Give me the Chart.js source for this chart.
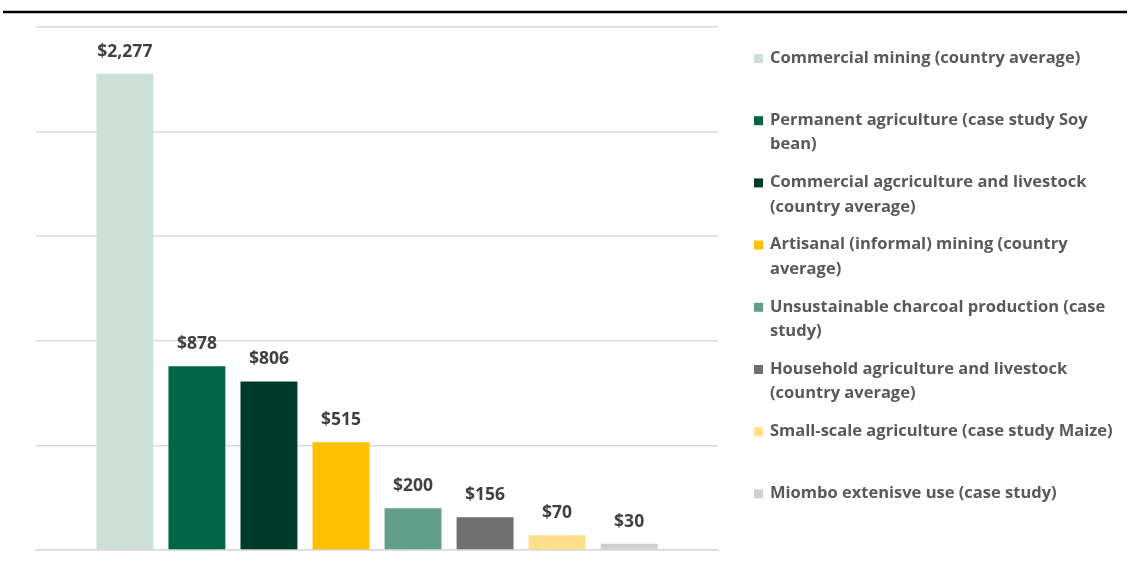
<!DOCTYPE html>
<html>
<head>
<meta charset="utf-8">
<title>Value per hectare by land use</title>
<script src="https://cdn.jsdelivr.net/npm/chart.js@4"></script>
<style>
  html, body { margin: 0; padding: 0; background: #ffffff; }
  #wrap { width: 1130px; height: 561px; position: relative; }
</style>
</head>
<body>
<div id="wrap"><canvas id="landUseChart" width="1130" height="561"></canvas></div>
<script>
// Land use categories (one series each, as in the original grouped chart)
const landUses = [
    'Commercial mining (country average)',
    'Permanent agriculture (case study Soy bean)',
    'Commercial agcriculture and livestock (country average)',
    'Artisanal (informal) mining (country average)',
    'Unsustainable charcoal production (case study)',
    'Household agriculture and livestock (country average)',
    'Small-scale agriculture (case study Maize)',
    'Miombo extenisve use (case study)'
];
const values = [2277, 878, 806, 515, 200, 156, 70, 30];
const barColors = ['#cce0d8', '#006646', '#003a2b', '#ffc000', '#629f8a', '#6f6f6f', '#ffe08a', '#d0d0d0'];

const labelFont = '"Open Sans", "Lato", sans-serif';

// Draws the "$x,xxx" labels above each bar
const valueLabels = {
    id: 'valueLabels',
    afterDatasetsDraw(chart) {
        const ctx = chart.ctx;
        ctx.save();
        ctx.font = '700 17.5px ' + labelFont;
        ctx.fillStyle = '#404040';
        ctx.textAlign = 'center';
        ctx.textBaseline = 'middle';
        chart.data.datasets.forEach((ds, i) => {
            const bar = chart.getDatasetMeta(i).data[0];
            ctx.fillText('$' + ds.data[0].toLocaleString('en-US'), bar.x, bar.y - 22);
        });
        ctx.restore();
    }
};

// Right-hand legend with wrapped text, plus the rule at the top
const sideLegend = {
    id: 'sideLegend',
    afterDraw(chart) {
        const ctx = chart.ctx;
        ctx.save();
        ctx.strokeStyle = '#000000';
        ctx.lineWidth = 2.5;
        ctx.beginPath();
        ctx.moveTo(3, 12);
        ctx.lineTo(1127, 12);
        ctx.stroke();

        ctx.font = '700 16.5px ' + labelFont;
        ctx.textBaseline = 'middle';
        const x0 = 754, textX = 770, maxW = 352, slot = 62.2, lineH = 24.5;
        chart.data.datasets.forEach((ds, i) => {
            const words = ds.label.split(' ');
            const lines = [];
            let cur = '';
            words.forEach(w => {
                const test = cur ? cur + ' ' + w : w;
                if (ctx.measureText(test).width > maxW && cur) {
                    lines.push(cur);
                    cur = w;
                } else {
                    cur = test;
                }
            });
            lines.push(cur);
            const y = 58 + i * slot;
            ctx.fillStyle = ds.backgroundColor;
            ctx.fillRect(x0, y - 4, 9, 9);
            ctx.fillStyle = '#595959';
            lines.forEach((ln, j) => ctx.fillText(ln, textX, y + j * lineH));
        });
        ctx.restore();
    }
};

new Chart(document.getElementById('landUseChart'), {
    type: 'bar',
    data: {
        labels: [''],
        datasets: landUses.map((name, i) => ({
            label: name,
            data: [values[i]],
            backgroundColor: barColors[i]
        }))
    },
    options: {
        responsive: false,
        animation: false,
        layout: { padding: { left: 36, right: 412, top: 27, bottom: 11 } },
        datasets: { bar: { categoryPercentage: 0.845, barPercentage: 0.79 } },
        plugins: {
            legend: { display: false },
            tooltip: { enabled: false }
        },
        scales: {
            x: {
                grid: { display: false, drawTicks: false },
                border: { display: true, color: '#d9d9d9', width: 1.5 },
                ticks: { display: false }
            },
            y: {
                min: 0,
                max: 2500,
                ticks: { display: false, stepSize: 500 },
                grid: { color: '#d9d9d9', lineWidth: 1.5, drawTicks: false },
                border: { display: false }
            }
        }
    },
    plugins: [valueLabels, sideLegend]
});
</script>
</body>
</html>
